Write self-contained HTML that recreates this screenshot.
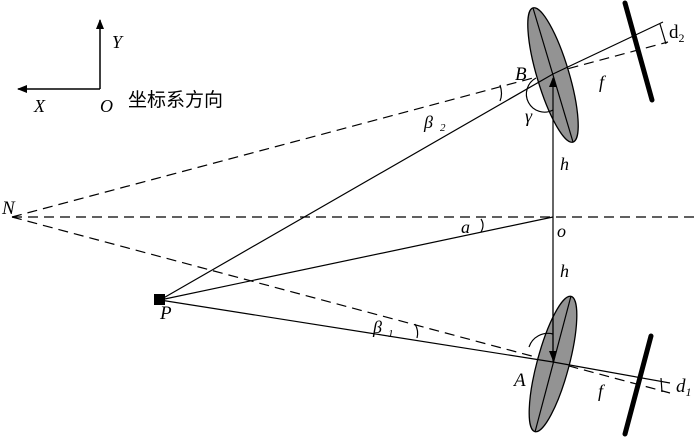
<!DOCTYPE html>
<html><head><meta charset="utf-8"><style>
html,body{margin:0;padding:0;background:#fff;}
svg{display:block;}
text{font-family:"Liberation Serif","Noto Serif CJK SC",serif;font-style:italic;fill:#000;}
</style></head><body>
<svg width="700" height="437" viewBox="0 0 700 437" xmlns="http://www.w3.org/2000/svg">
<defs>
<marker id="ah" markerWidth="10" markerHeight="10" refX="9" refY="5" orient="auto" markerUnits="userSpaceOnUse"><path d="M0,1 L10,5 L0,9 z" fill="#000"/></marker>
</defs>
<line x1="100" y1="89" x2="100" y2="20" stroke="#000" stroke-width="1.5" marker-end="url(#ah)"/>
<line x1="100" y1="89" x2="18" y2="89" stroke="#000" stroke-width="1.5" marker-end="url(#ah)"/>
<text x="112" y="48" font-size="18">Y</text>
<text x="34" y="112" font-size="18">X</text>
<text x="100" y="112" font-size="18">O</text>
<text x="128" y="106" font-size="19" style="font-style:normal;font-family:'Liberation Sans','Noto Sans CJK SC',sans-serif">坐标系方向</text>

<g stroke="#000" stroke-width="1.2" stroke-dasharray="10,6" fill="none">
<line x1="12" y1="217" x2="700" y2="217"/>
<line x1="12" y1="217" x2="668" y2="42"/>
<line x1="12" y1="217" x2="670" y2="393"/>
</g>

<g stroke="#000" stroke-width="1.3" fill="#939393">
<ellipse cx="553" cy="75" rx="16" ry="70" transform="rotate(-16.6 553 75)"/>
<ellipse cx="553" cy="364" rx="16" ry="70" transform="rotate(15 553 364)"/>
</g>
<g stroke="#000" stroke-width="1.2">
<line x1="533" y1="8" x2="573" y2="142"/>
<line x1="571" y1="296" x2="535" y2="432"/>
</g>

<g stroke="#000" stroke-width="1.2" fill="none">
<polyline points="160,300 553,74 663,22"/>
<polyline points="160,300 553,362 670,383"/>
<line x1="160" y1="300" x2="553" y2="217"/>
<line x1="553" y1="150" x2="553" y2="78" marker-end="url(#ah)"/>
<line x1="553" y1="150" x2="553" y2="362"/>
<line x1="553" y1="300" x2="553" y2="360" marker-end="url(#ah)"/>
<path d="M500,85 Q503,94 500,101"/>
<path d="M415,324 Q419,331 417,338"/>
<path d="M481,219 Q485,225 481,232"/>
<path d="M536,78 A18,18 0 0 0 553,110"/>
<path d="M529,347 A20,20 0 0 1 553,334"/>
<line x1="660" y1="24" x2="666" y2="44"/>
<line x1="661" y1="378" x2="662" y2="392"/>
</g>
<g stroke="#000" stroke-width="5" stroke-linecap="round">
<line x1="625" y1="3" x2="652" y2="100"/>
<line x1="651" y1="336" x2="625" y2="434"/>
</g>
<rect x="154" y="294" width="11" height="11" fill="#000"/>

<text x="2" y="214" font-size="19">N</text>
<text x="160" y="319" font-size="19">P</text>
<text x="515" y="80" font-size="19">B</text>
<text x="514" y="386" font-size="19">A</text>
<text x="557" y="237" font-size="18">o</text>
<text x="560" y="170" font-size="18">h</text>
<text x="560" y="277" font-size="18">h</text>
<text x="461" y="233" font-size="18">a</text>
<text x="525" y="122" font-size="18">γ</text>
<text x="599" y="88" font-size="18">f</text>
<text x="598" y="397" font-size="18">f</text>
<text x="424" y="128" font-size="18">β</text><text x="440" y="131" font-size="11">2</text>
<text x="373" y="333" font-size="18">β</text><text x="388" y="337" font-size="11">1</text>
<text x="669" y="38" font-size="19" style="font-style:normal">d<tspan font-size="12" dy="4">2</tspan></text>
<text x="676" y="392" font-size="19">d<tspan font-size="12" dy="4">1</tspan></text>
</svg>
</body></html>
